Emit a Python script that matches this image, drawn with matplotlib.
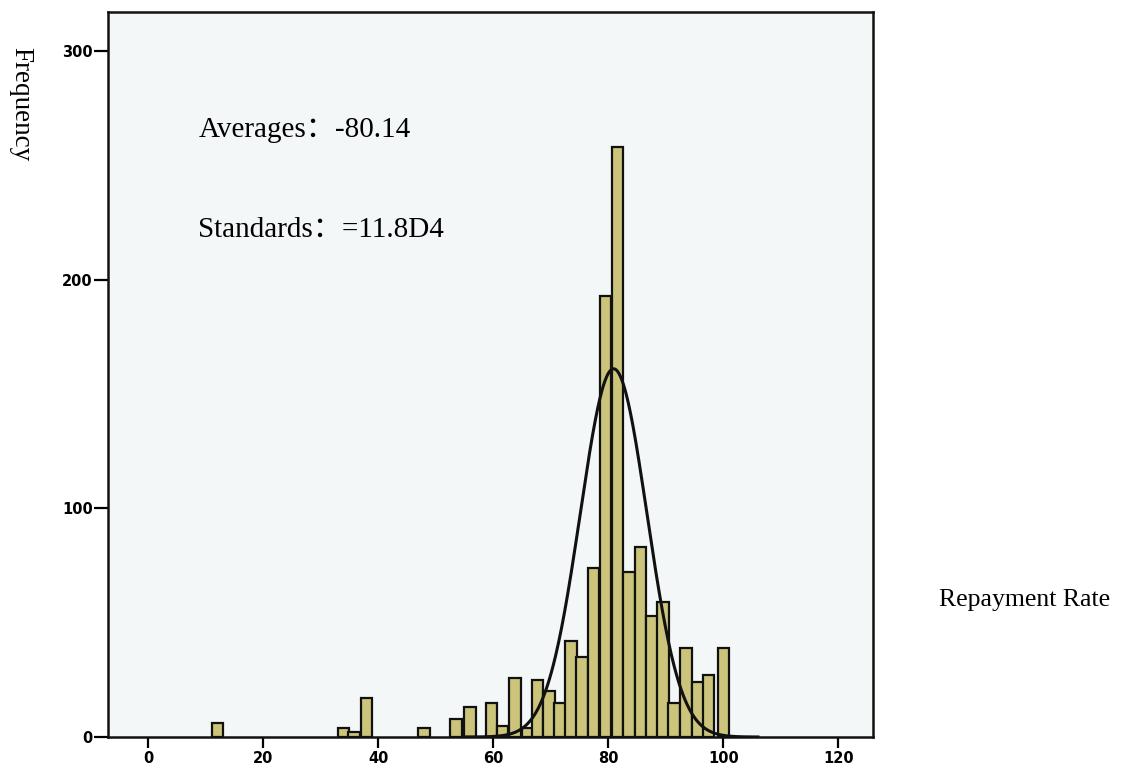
import numpy as np
import matplotlib
matplotlib.use('Agg')
import matplotlib.pyplot as plt

# bar centres (repayment rate) and frequencies
rate = [12.0, 33.9, 35.8, 37.9, 47.9, 53.5, 55.9, 59.7, 61.6, 63.8, 65.9, 67.7,
        69.7, 71.6, 73.5, 75.4, 77.4, 79.5, 81.6, 83.6, 85.6, 87.6, 89.5, 91.4,
        93.5, 95.6, 97.4, 100.0]
freq = [6, 4, 2, 17, 4, 8, 13, 15, 5, 26, 4, 25,
        20, 15, 42, 35, 74, 193, 258, 72, 83, 53, 59, 15,
        39, 24, 27, 39]
bin_width = 2.0

# fitted normal curve
curve_mean = 80.9
curve_sd = 5.8
curve_peak = 161

xticks = [0, 20, 40, 60, 80, 100, 120]
yticks = [0, 100, 200, 300]
ytick_labels = ['0', '100', '200', '300']

serif = ['Liberation Serif', 'Noto Sans CJK SC', 'DejaVu Sans']

fig = plt.figure(figsize=(11.23, 7.69), dpi=100)
ax = fig.add_axes([108 / 1123, 1 - 737 / 769, 765 / 1123, 725 / 769])
ax.set_facecolor('#f4f7f7')

ax.bar(rate, freq, width=bin_width, color='#cbc47a', edgecolor='#111111',
       linewidth=1.6, zorder=2)

xs = np.linspace(55, 106, 400)
ys = curve_peak * np.exp(-0.5 * ((xs - curve_mean) / curve_sd) ** 2)
ax.plot(xs, ys, color='#111111', linewidth=2.2, zorder=3)

ax.set_xlim(-7, 126)
ax.set_ylim(0, 317)
ax.set_xticks(xticks)
ax.set_yticks(yticks)
ax.set_yticklabels(ytick_labels)
for lbl in ax.get_xticklabels() + ax.get_yticklabels():
    lbl.set_fontweight('bold')
    lbl.set_fontsize(10.5)
ax.tick_params(axis='x', length=8, width=1.6, pad=2)
ax.tick_params(axis='y', length=10, width=1.6, pad=1)
for sp in ax.spines.values():
    sp.set_linewidth(1.8)
    sp.set_color('#111111')

ax.text(0.118, 0.828, 'Averages：-80.14', transform=ax.transAxes,
        family=serif, fontsize=21, va='baseline')
ax.text(0.118, 0.690, 'Standards：=11.8D4', transform=ax.transAxes,
        family=serif, fontsize=21, va='baseline')

fig.text(21 / 1123, 1 - 104 / 769, 'Frequency', rotation=-90, family=serif,
         fontsize=19.5, ha='center', va='center')
fig.text(1025 / 1123, 1 - 600 / 769, 'Repayment Rate', family=serif,
         fontsize=18.5, ha='center', va='center')

fig.savefig('out.png', dpi=100)
